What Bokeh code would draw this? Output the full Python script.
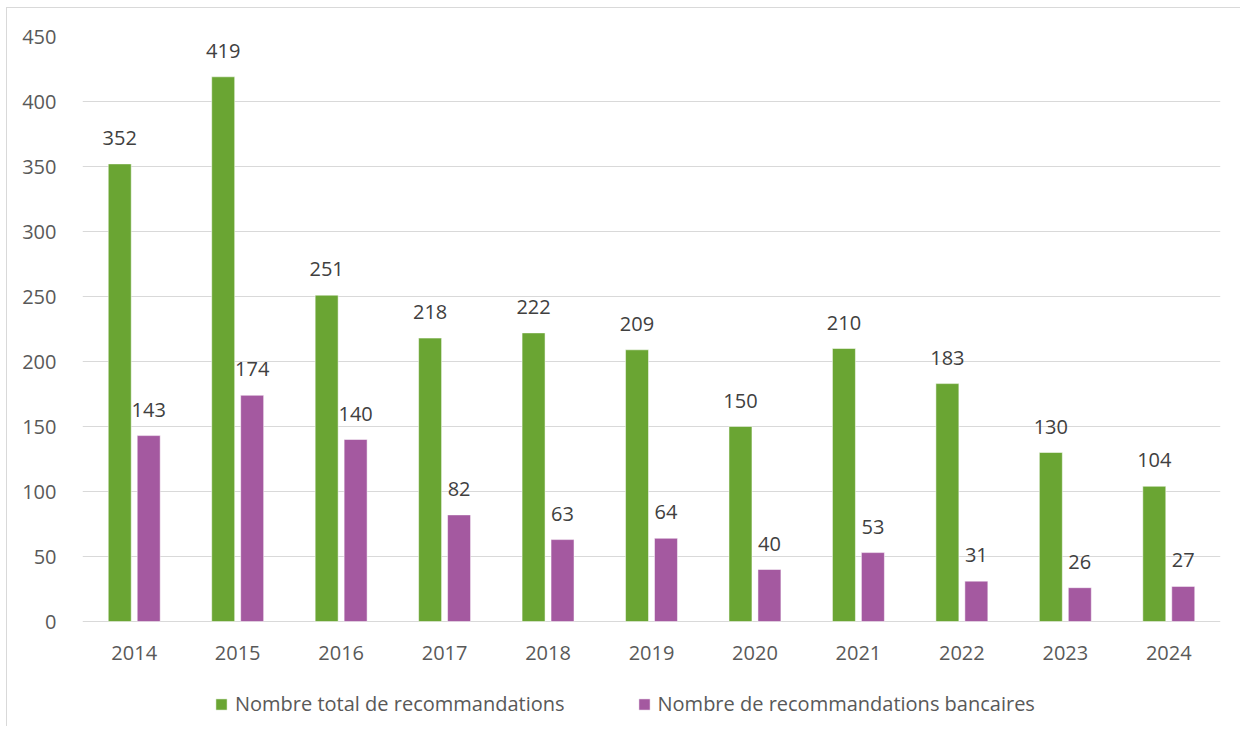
from bokeh.plotting import figure
from bokeh.models import ColumnDataSource, FactorRange, Legend, LegendItem, FixedTicker, Range1d
from bokeh.transform import dodge
from bokeh.core.properties import value
from bokeh.embed import file_html
from bokeh.resources import INLINE

years = ["2014", "2015", "2016", "2017", "2018", "2019", "2020", "2021", "2022", "2023", "2024"]
total = [352, 419, 251, 218, 222, 209, 150, 210, 183, 130, 104]
bancaires = [143, 174, 140, 82, 63, 64, 40, 53, 31, 26, 27]
y_ticks = [0, 50, 100, 150, 200, 250, 300, 350, 400, 450]
series_names = ["Nombre total de recommandations", "Nombre de recommandations bancaires"]
colors = ["#6aa533", "#a459a0"]

src = ColumnDataSource(dict(years=years, total=total, bancaires=bancaires,
                            tl=[str(v) for v in total], bl=[str(v) for v in bancaires]))

FONT = "Open Sans"
FS = "20px"

# layout: the value axis (0..450) takes 585 px; the frame extends below it to hold
# the category labels and the legend
AXIS_PX = 585
FRAME_PX = 690
y_top = 450
y_bottom = y_top - FRAME_PX * y_top / AXIS_PX

p = figure(x_range=FactorRange(*years, range_padding=0), y_range=Range1d(y_bottom, y_top),
           frame_width=1138, frame_height=FRAME_PX, output_backend="svg", toolbar_location=None,
           min_border_left=75, min_border_right=20, min_border_top=28, min_border_bottom=0)
p.styles = {"border-left": "1px solid #d9d9d9", "border-top": "1px solid #d9d9d9",
            "margin-left": "6px", "margin-top": "7px"}
p.outline_line_color = None

r1 = p.vbar(x=dodge("years", -0.14, range=p.x_range), top="total", width=0.222, source=src,
            fill_color=colors[0], line_color="white", line_width=0.5)
r2 = p.vbar(x=dodge("years", 0.14, range=p.x_range), top="bancaires", width=0.222, source=src,
            fill_color=colors[1], line_color="white", line_width=0.5)

p.text(x=dodge("years", -0.14, range=p.x_range), y="total", text="tl", source=src,
       text_align="center", text_baseline="bottom", y_offset=-19,
       text_font=value(FONT), text_font_size=FS, text_color="#404040")
p.text(x=dodge("years", 0.14, range=p.x_range), y="bancaires", text="bl", source=src,
       text_align="center", text_baseline="bottom", y_offset=-19,
       text_font=value(FONT), text_font_size=FS, text_color="#404040")

# category labels under the zero line
p.text(x="years", y=0, text="years", source=src, text_align="center", text_baseline="middle",
       y_offset=31, text_font=value(FONT), text_font_size=FS, text_color="#595959")

p.yaxis.ticker = FixedTicker(ticks=y_ticks)
p.ygrid.grid_line_color = "#d9d9d9"
p.xgrid.grid_line_color = None
p.yaxis.axis_line_color = None
p.yaxis.major_tick_line_color = None
p.yaxis.minor_tick_line_color = None
p.yaxis.major_label_text_font = FONT
p.yaxis.major_label_text_font_size = FS
p.yaxis.major_label_text_color = "#595959"
p.yaxis.major_label_standoff = 20
p.xaxis.visible = False

legend = Legend(items=[LegendItem(label=series_names[0], renderers=[r1]),
                       LegendItem(label=series_names[1], renderers=[r2])],
                orientation="horizontal", location=(132, 9),
                label_text_font=FONT, label_text_font_size=FS, label_text_color="#595959",
                glyph_width=14, glyph_height=14, spacing=72, border_line_color=None,
                background_fill_alpha=0, padding=4, margin=0, label_standoff=7)
p.add_layout(legend, "center")

open("out.html", "w").write(file_html(p, INLINE))
